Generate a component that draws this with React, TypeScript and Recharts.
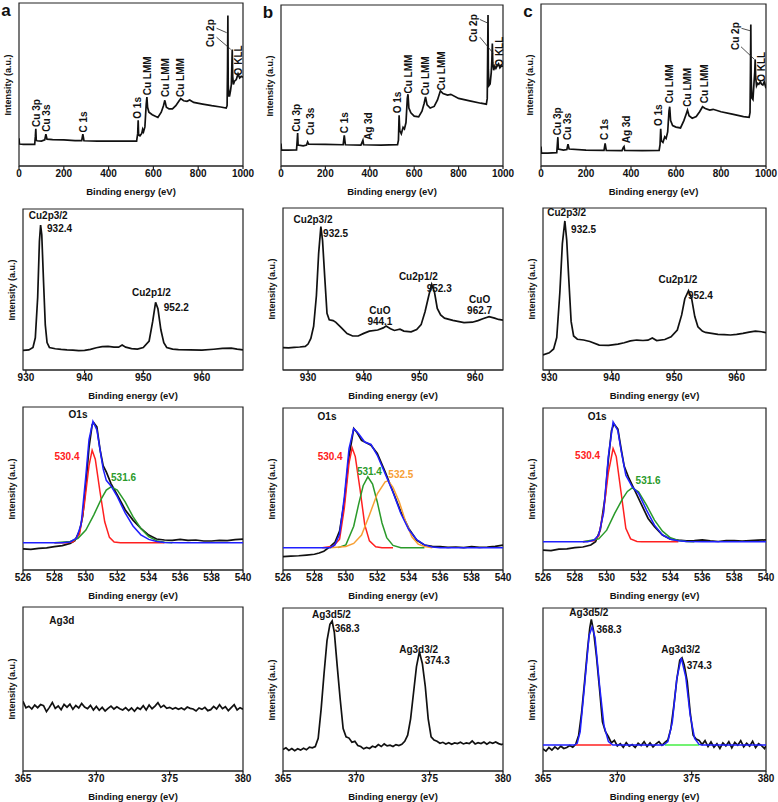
import React from "react"
import { LineChart, Line, XAxis, YAxis, ReferenceArea, ReferenceDot, ReferenceLine } from "recharts"

type Pt = [number, number]
type Note = { x: number; y: number; text: string; color?: string; rot?: boolean; anchor?: "start" | "middle" }

const FONT = "'Liberation Sans', Arial, sans-serif"
const BLACK = "#111"
const BLUE = "#1f1fff"
const RED = "#ff2020"
const GREEN = "#2a9a2a"
const ORANGE = "#f7a035"
const LIME = "#44ee44"

// tick labels
const surveyTicks = [0, 200, 400, 600, 800, 1000]
const cu2pTicks = [930, 940, 950, 960]
const o1sTicks = [526, 528, 530, 532, 534, 536, 538, 540]
const ag3dTicks = [365, 370, 375, 380]

// ---- row 1: survey spectra (eV, a.u.)
const surveyA: Pt[] = [
  [0, 17], [2, 13.5], [20, 13.3], [50, 13.3], [70, 13.3], [73, 18], [75, 22.9], [77, 16], [80, 15.5], [100, 15.3],
  [115, 16], [120, 19.5], [125, 16.5], [150, 16.2], [200, 16], [250, 15.6], [280, 15.6], [285, 19.5], [290, 15.5],
  [350, 15.3], [400, 15.2], [450, 15.3], [500, 15.2], [525, 15.3], [530, 20], [532, 28], [534, 19], [540, 18.5],
  [548, 20], [552, 22.5], [556, 21], [562, 24], [568, 38], [571, 42.3], [574, 36], [580, 33], [595, 31.5],
  [620, 29.8], [635, 33], [645, 37], [651, 40.3], [658, 36], [670, 35], [685, 35], [700, 37], [715, 40], [722, 41.3],
  [735, 40], [750, 39.7], [762, 40.5], [780, 39], [820, 38], [860, 37], [900, 36.2], [925, 35.6], [929, 37],
  [931, 60], [932.5, 92.4], [934, 50], [937, 43], [940, 43], [944, 46], [948, 50], [950, 60], [952, 71.5], [954, 55],
  [957, 50], [962, 52], [970, 53], [978, 56.5], [985, 54], [992, 55], [1000, 54.5],
]
const surveyB: Pt[] = [
  [0, 14], [2, 9.8], [30, 9.8], [70, 10], [73, 16], [75, 20.5], [77, 13], [100, 12.5], [115, 13], [120, 14.9],
  [125, 13.5], [200, 13.4], [280, 13.2], [285, 19], [290, 13.2], [360, 13], [366, 15], [369, 16], [372, 13.2],
  [450, 13], [525, 13.3], [529, 16], [532, 31.5], [535, 22], [542, 20], [550, 24], [556, 23], [563, 27], [569, 42],
  [572, 44.6], [576, 36], [585, 33], [600, 31], [620, 30.5], [635, 34], [645, 39], [651, 42.9], [658, 38], [672, 36],
  [690, 37], [705, 41], [718, 46.7], [730, 45], [750, 44], [765, 44.5], [800, 42], [850, 40.5], [900, 39],
  [925, 38.4], [929, 42], [931, 70], [932.5, 93.8], [934, 60], [937, 50], [942, 51], [947, 58], [950, 66], [952, 76],
  [954, 64], [958, 59.5], [963, 62], [968, 60.6], [975, 62.5], [980, 63.5], [986, 61], [992, 62], [1000, 62],
]
const surveyC: Pt[] = [
  [0, 12], [2, 8], [30, 8], [70, 8.2], [73, 14], [75, 17.8], [77, 10.5], [100, 9.8], [115, 10.2], [120, 13.5],
  [125, 10.5], [200, 9.8], [280, 9.6], [285, 14], [290, 9.6], [360, 9.5], [366, 11.5], [369, 12], [372, 9.6],
  [450, 9.5], [525, 9.6], [529, 13], [532, 22.9], [535, 15.5], [542, 14.5], [550, 18], [556, 17], [563, 21], [569, 34],
  [572, 36.6], [576, 28], [585, 25], [600, 24], [620, 23.5], [635, 28], [645, 32], [651, 34.5], [658, 31],
  [672, 29.5], [690, 30.5], [705, 33.5], [718, 36.6], [730, 35.5], [750, 34.5], [765, 35], [800, 33.5], [850, 32],
  [900, 30.5], [925, 30], [929, 33], [931, 60], [932.5, 87.3], [934, 55], [937, 42], [942, 41], [947, 52], [950, 58],
  [952, 65.8], [954, 55], [958, 49.5], [963, 51], [968, 50.5], [975, 52], [980, 50.5], [986, 50], [992, 52], [1000, 48],
]

const surveyNotesA: Note[] = [
  { x: 79, y: 24, text: "Cu 3p", rot: true }, { x: 125, y: 21, text: "Cu 3s", rot: true },
  { x: 289, y: 20.5, text: "C 1s", rot: true }, { x: 527, y: 29, text: "O 1s", rot: true },
  { x: 574, y: 43.4, text: "Cu LMM", rot: true }, { x: 653, y: 42.3, text: "Cu LMM", rot: true },
  { x: 720, y: 42.3, text: "Cu LMM", rot: true }, { x: 856, y: 73, text: "Cu 2p", rot: true },
  { x: 981, y: 55.6, text: "O KLL", rot: true },
]
const surveyNotesB: Note[] = [
  { x: 71, y: 21.3, text: "Cu 3p", rot: true }, { x: 131, y: 19.3, text: "Cu 3s", rot: true },
  { x: 285, y: 20.3, text: "C 1s", rot: true }, { x: 393, y: 16.1, text: "Ag 3d", rot: true },
  { x: 525, y: 32.7, text: "O 1s", rot: true }, { x: 573, y: 45, text: "Cu LMM", rot: true },
  { x: 653, y: 44, text: "Cu LMM", rot: true }, { x: 724, y: 47, text: "Cu LMM", rot: true },
  { x: 869, y: 77, text: "Cu 2p", rot: true }, { x: 986, y: 61.7, text: "O KLL", rot: true },
]
const surveyNotesC: Note[] = [
  { x: 72, y: 19, text: "Cu 3p", rot: true }, { x: 117, y: 16, text: "Cu 3s", rot: true },
  { x: 281, y: 16, text: "C 1s", rot: true }, { x: 381, y: 14, text: "Ag 3d", rot: true },
  { x: 524, y: 24.7, text: "O 1s", rot: true }, { x: 573, y: 38.7, text: "Cu LMM", rot: true },
  { x: 652, y: 36.6, text: "Cu LMM", rot: true }, { x: 726, y: 38.7, text: "Cu LMM", rot: true },
  { x: 865, y: 71.6, text: "Cu 2p", rot: true }, { x: 981, y: 52, text: "O KLL", rot: true },
]
const arrowsA: Pt[][] = [[[882, 84.5], [927, 81.8]], [[882, 79], [945, 71.6]]]
const arrowsB: Pt[][] = [[[896, 91], [934, 88.6]], [[896, 80], [956, 70]]]
const arrowsC: Pt[][] = [[[891, 85], [929, 83.5]], [[889, 73.6], [948, 65.9]]]

// ---- row 2: Cu 2p
const cu2pA: Pt[] = [
  [929.5, 12.2], [930.5, 12.5], [931.2, 14], [931.6, 20], [932, 45], [932.3, 80], [932.5, 90], [932.7, 84], [933, 55],
  [933.3, 28], [933.6, 17], [934, 14], [935, 13.2], [936, 12.8], [937, 12.5], [938, 12.3], [939, 12], [940, 12.2],
  [941, 12.8], [942, 13.8], [943, 14.5], [944, 14.7], [945, 14.2], [945.8, 14.2], [946.4, 15.5], [947, 14.2],
  [948, 13.3], [949, 13], [950, 14], [951, 18], [951.6, 30], [952.1, 42], [952.5, 38], [953, 25], [953.5, 17],
  [954, 14], [955, 13], [956, 12.6], [958, 12.5], [960, 12.3], [962, 12.9], [963.5, 13.4], [965, 13.6], [966, 13], [967, 12.5],
]
const cu2pB: Pt[] = [
  [925.5, 13.8], [926.5, 13.6], [927.5, 14], [928.5, 14.2], [929.5, 14.6], [930, 16], [930.5, 19.5], [931, 27],
  [931.5, 46], [931.9, 72], [932.3, 88.5], [932.6, 80], [933, 57], [933.4, 35], [933.8, 31], [934.5, 30.5],
  [935, 29.4], [936, 26], [937, 22.5], [938, 21], [939, 21], [940, 22.6], [941, 24], [942.5, 24.7], [943.5, 26],
  [944, 27.1], [944.8, 25.5], [945.5, 24.4], [946.5, 25.2], [947.2, 24], [948.5, 23.6], [949.5, 25], [950.3, 28],
  [951, 36], [951.7, 46.3], [952.2, 52.9], [952.7, 48], [953.2, 38], [953.8, 34], [954.5, 32], [956, 30.6],
  [958, 29.2], [959.5, 29.5], [960.5, 30.5], [961.5, 31.8], [962.5, 32.9], [963.5, 32], [964.2, 31.2], [965, 30.8],
]
const cu2pC: Pt[] = [
  [929, 9.3], [930, 10.6], [930.7, 13], [931.2, 20], [931.7, 48], [932.1, 78], [932.5, 92], [932.8, 80], [933.1, 58],
  [933.5, 30], [933.9, 21], [934.5, 19], [935.5, 18.5], [936.5, 17.6], [938, 15.4], [939.5, 15.2], [941, 16],
  [942, 16.8], [943, 18], [944, 18.5], [945, 18.2], [945.8, 18.4], [946.5, 19.8], [947.2, 18.2], [948.5, 18.8],
  [949.5, 20.5], [950.5, 24.7], [951.2, 34], [951.7, 44], [952.3, 49], [952.8, 44], [953.3, 33], [953.8, 26.7],
  [954.5, 24], [955, 23.2], [956, 22.6], [957, 22], [958, 21.8], [959, 21.6], [960, 22], [961, 22.6], [962, 23.4],
  [963, 24], [964, 23.6], [964.7, 23],
]
const cu2pNotesA: Note[] = [
  { x: 933.8, y: 96, text: "Cu2p3/2" }, { x: 933.6, y: 87.6, text: "932.4", anchor: "start" },
  { x: 951.4, y: 48, text: "Cu2p1/2" }, { x: 953.5, y: 39, text: "952.2", anchor: "start" },
]
const cu2pNotesB: Note[] = [
  { x: 930.9, y: 93, text: "Cu2p3/2" }, { x: 932.7, y: 84, text: "932.5", anchor: "start" },
  { x: 942.9, y: 37, text: "CuO" }, { x: 942.9, y: 30, text: "944.1" },
  { x: 949.8, y: 57.6, text: "Cu2p1/2" }, { x: 951.3, y: 50.4, text: "952.3", anchor: "start" },
  { x: 960.8, y: 43.8, text: "CuO" }, { x: 960.8, y: 37, text: "962.7" },
]
const cu2pNotesC: Note[] = [
  { x: 932.8, y: 97, text: "Cu2p3/2" }, { x: 933.5, y: 87, text: "932.5", anchor: "start" },
  { x: 950.6, y: 56, text: "Cu2p1/2" }, { x: 952.2, y: 46, text: "952.4", anchor: "start" },
]

// ---- row 3: O 1s (raw, envelope, components)
const o1sRawA: Pt[] = [
  [526, 12.9], [526.5, 12.6], [527, 13.3], [527.5, 13.6], [528, 14.3], [528.5, 15], [529, 16.3], [529.3, 18],
  [529.6, 24], [529.8, 33], [530, 52], [530.2, 75], [530.4, 89], [530.5, 90.4], [530.7, 87.8], [530.9, 74],
  [531.1, 64], [531.3, 60.2], [531.6, 53], [532, 46], [532.5, 37], [533, 30.6], [533.5, 25.5], [534, 21.4],
  [534.5, 19], [535, 18.4], [535.5, 18.2], [536, 18.8], [536.5, 18.2], [537, 18.4], [537.5, 17.8], [538, 17.8],
  [538.5, 18.2], [539, 18], [539.5, 18.6], [540, 19],
]
const o1sFitA: Pt[] = [
  [526, 16.7], [528.5, 16.7], [529, 17.2], [529.4, 19.5], [529.7, 28], [530, 58], [530.2, 80], [530.45, 91.2],
  [530.7, 86], [530.9, 74], [531.1, 62], [531.3, 55], [531.6, 51.6], [532, 45], [532.5, 35], [533, 27], [533.5, 21.6],
  [534, 18.8], [534.5, 17.5], [535, 16.9], [536, 16.7], [540, 16.7],
]
const o1sRedA: Pt[] = [
  [528, 16.7], [528.8, 16.7], [529.2, 17.3], [529.6, 22], [529.9, 40], [530.2, 64], [530.4, 73.5], [530.6, 68],
  [530.9, 48], [531.2, 29.6], [531.5, 20], [531.8, 17.2], [532.2, 16.7], [535, 16.7],
]
const o1sGreenA: Pt[] = [
  [528, 16.7], [529, 17.5], [529.5, 19.4], [530, 24.5], [530.5, 33.7], [531, 43.9], [531.3, 49], [531.6, 51],
  [532, 49], [532.5, 41.8], [533, 32.7], [533.5, 25.5], [534, 20.4], [534.5, 18], [535, 17], [535.5, 16.7],
]
const o1sRawB: Pt[] = [
  [526, 8.2], [526.5, 8.6], [527, 8.8], [527.5, 9.2], [528, 9.7], [528.3, 10.5], [528.6, 11.6], [529, 14.4],
  [529.3, 17], [529.6, 24], [529.9, 42], [530.2, 70], [530.5, 87.3], [530.7, 85], [531, 80], [531.3, 78.5],
  [531.6, 77], [532, 71.9], [532.5, 60.6], [533, 48.3], [533.5, 35.9], [534, 25.7], [534.5, 18.5], [535, 15.4],
  [535.5, 14.6], [536, 14.4], [536.5, 14], [537, 14.2], [537.5, 13.8], [538, 14.4], [538.5, 14], [539, 14.2],
  [539.5, 14.6], [540, 15.4],
]
const o1sFitB: Pt[] = [
  [526, 13.8], [529, 13.8], [529.3, 15.5], [529.6, 22], [529.9, 45], [530.2, 75], [530.5, 87.3], [530.8, 84.2],
  [531.2, 79], [531.6, 77.5], [532, 70.8], [532.5, 59.5], [533, 48], [533.5, 34.9], [534, 25], [534.5, 18.8],
  [535, 15.5], [535.5, 14.2], [536, 13.8], [540, 13.8],
]
const o1sRedB: Pt[] = [
  [528.5, 13.8], [529.2, 14.6], [529.6, 19], [529.9, 38], [530.2, 66], [530.4, 75.4], [530.6, 70], [530.9, 50],
  [531.2, 28], [531.5, 18], [531.9, 14.3], [532.3, 13.8], [533, 13.8],
]
const o1sGreenB: Pt[] = [
  [529.5, 13.8], [530, 15.5], [530.5, 27], [530.8, 40], [531.1, 52], [531.4, 57.5], [531.7, 53], [532, 42],
  [532.3, 29], [532.6, 20], [533, 15.2], [533.5, 13.8], [535, 13.8],
]
const o1sOrangeB: Pt[] = [
  [529, 13.8], [530, 14.5], [530.5, 16.4], [531, 21.6], [531.5, 34], [532, 47], [532.5, 54.4], [532.7, 55],
  [533, 51], [533.4, 42], [533.8, 30], [534.2, 20.5], [534.6, 16], [535, 14.5], [535.5, 13.8],
]
const o1sRawC: Pt[] = [
  [526, 12.3], [526.5, 12.0], [527, 12.9], [527.5, 13], [528, 13.8], [528.5, 14.2], [529, 15.4], [529.3, 17.5],
  [529.6, 25], [529.9, 45], [530.1, 68], [530.3, 86], [530.45, 90.3], [530.7, 87], [530.9, 75], [531.1, 64],
  [531.4, 56.5], [531.8, 48.3], [532.2, 40], [532.6, 31.8], [533, 26.7], [533.5, 21.6], [534, 19], [534.5, 18.4],
  [535, 18], [535.5, 18.2], [536, 18.6], [536.5, 18], [537, 17.6], [537.5, 18.2], [538, 18.2], [538.5, 17.8],
  [539, 18.2], [539.5, 18.4], [540, 18.6],
]
const o1sFitC: Pt[] = [
  [526, 17.5], [528.8, 17.5], [529.2, 18.5], [529.5, 21.6], [529.8, 35], [530.1, 70], [530.4, 91.4], [530.7, 86],
  [530.9, 74], [531.2, 58.5], [531.6, 51.3], [532, 47.2], [532.5, 37], [533, 27.7], [533.5, 21.6], [534, 19],
  [534.5, 18], [535, 17.6], [536, 17.5], [540, 17.5],
]
const o1sRedC: Pt[] = [
  [528.5, 17.5], [529.2, 18], [529.5, 21], [529.8, 36], [530.1, 60], [530.4, 75], [530.6, 70], [530.9, 48],
  [531.2, 25.7], [531.5, 19.2], [531.9, 17.6], [532.2, 17.5], [534.5, 17.5],
]
const o1sGreenC: Pt[] = [
  [528.5, 17.5], [529.5, 19.2], [530, 24.6], [530.5, 34.9], [531, 44.1], [531.3, 48.5], [531.6, 50.7], [532, 48.3],
  [532.5, 40], [533, 30.8], [533.5, 24], [534, 19.9], [534.5, 18.2], [535, 17.6], [535.5, 17.5],
]
const o1sNotesA: Note[] = [
  { x: 529.5, y: 95.3, text: "O1s" }, { x: 528.8, y: 69.8, text: "530.4", color: RED },
  { x: 532.4, y: 57, text: "531.6", color: GREEN },
]
const o1sNotesB: Note[] = [
  { x: 528.8, y: 94.5, text: "O1s" }, { x: 529.0, y: 70.2, text: "530.4", color: RED },
  { x: 531.5, y: 61, text: "531.4", color: GREEN }, { x: 533.5, y: 59, text: "532.5", color: ORANGE },
]
const o1sNotesC: Note[] = [
  { x: 529.4, y: 95, text: "O1s" }, { x: 528.8, y: 70.4, text: "530.4", color: RED },
  { x: 532.6, y: 55.4, text: "531.6", color: GREEN },
]

// ---- row 4: Ag 3d
const ag3dA: Pt[] = [
  [365.0, 42.5], [365.2, 38.5], [365.4, 39.5], [365.6, 37.8], [365.8, 40.2], [366.0, 38.6], [366.2, 40.5],
  [366.4, 39.8], [366.6, 36.2], [366.8, 38.8], [367.0, 41.8], [367.2, 38.2], [367.4, 39.6], [367.6, 37.4],
  [367.8, 40.6], [368.0, 38.9], [368.2, 40.8], [368.4, 37.6], [368.6, 39.9], [368.8, 38.4], [369.0, 41.2],
  [369.2, 39.0], [369.4, 38.0], [369.6, 40.0], [369.8, 37.2], [370.0, 39.4], [370.2, 37.0], [370.4, 38.8],
  [370.6, 36.6], [370.8, 38.2], [371.0, 39.6], [371.2, 37.8], [371.4, 39.2], [371.6, 38.0], [371.8, 37.2],
  [372.0, 38.6], [372.2, 36.8], [372.4, 38.4], [372.6, 36.4], [372.8, 38.6], [373.0, 37.6], [373.2, 39.8],
  [373.4, 37.2], [373.6, 40.2], [373.8, 38.0], [374.0, 39.6], [374.2, 41.6], [374.4, 38.8], [374.6, 40.0],
  [374.8, 38.2], [375.0, 38.8], [375.2, 37.8], [375.4, 38.6], [375.6, 37.6], [375.8, 38.4], [376.0, 37.4],
  [376.2, 39.0], [376.4, 38.2], [376.6, 37.8], [376.8, 36.6], [377.0, 38.4], [377.2, 37.6], [377.4, 38.8],
  [377.6, 36.8], [377.8, 37.4], [378.0, 39.4], [378.2, 37.8], [378.4, 40.4], [378.6, 38.0], [378.8, 39.2],
  [379.0, 36.8], [379.2, 38.6], [379.4, 40.4], [379.6, 37.2], [379.8, 38.6], [380.0, 37.6],
]
const ag3dB: Pt[] = [
  [365.0, 13.2], [365.2, 14.2], [365.4, 12.6], [365.6, 13.8], [365.8, 12.4], [366.0, 13.6], [366.2, 12.8],
  [366.4, 14.0], [366.6, 13.0], [366.8, 14.6], [367.0, 14.2], [367.2, 15.0], [367.4, 20], [367.6, 38], [367.8, 60],
  [368.0, 80], [368.2, 90], [368.35, 92], [368.5, 85], [368.7, 64], [368.9, 44], [369.1, 26], [369.3, 21],
  [369.5, 20.2], [369.7, 17.6], [369.9, 18.2], [370.1, 15.6], [370.3, 15.0], [370.5, 13.6], [370.7, 14.4],
  [370.9, 13.8], [371.1, 15.2], [371.3, 14.6], [371.5, 16.2], [371.7, 15.0], [371.9, 16.6], [372.1, 15.4],
  [372.3, 15.8], [372.5, 15.0], [372.7, 16.2], [372.9, 15.6], [373.1, 16.4], [373.3, 18.2], [373.5, 22],
  [373.7, 32], [373.9, 48], [374.1, 64], [374.3, 73.1], [374.5, 66], [374.7, 52], [374.9, 32], [375.1, 21],
  [375.3, 19], [375.5, 18.2], [375.7, 17.0], [375.9, 17.6], [376.1, 16.6], [376.3, 17.4], [376.5, 16.4],
  [376.7, 17.2], [376.9, 16.8], [377.1, 17.6], [377.3, 16.6], [377.5, 17.2], [377.7, 16.8], [377.9, 18.4],
  [378.1, 16.6], [378.3, 17.4], [378.5, 16.8], [378.7, 17.8], [378.9, 16.4], [379.1, 17.6], [379.3, 17.0],
  [379.5, 17.8], [379.7, 16.8], [379.9, 16.2], [380.0, 16.6],
]
const ag3dRawC: Pt[] = [
  [365.0, 13.6], [365.2, 12.2], [365.4, 14.4], [365.6, 12.8], [365.8, 14.8], [366.0, 13.4], [366.2, 15.2],
  [366.4, 13.8], [366.6, 14.4], [366.8, 15.6], [367.0, 14.6], [367.2, 16.4], [367.4, 22], [367.6, 36], [367.8, 55],
  [368.0, 75], [368.15, 88], [368.25, 93], [368.4, 86], [368.6, 70], [368.8, 50.6], [369.0, 30.2], [369.2, 24.1],
  [369.4, 21], [369.6, 17.2], [369.8, 18.8], [370.0, 15.4], [370.2, 16.8], [370.4, 14.6], [370.6, 17.4],
  [370.8, 15.2], [371.0, 16.2], [371.2, 14.4], [371.4, 17.0], [371.6, 15.6], [371.8, 18.0], [372.0, 15.0],
  [372.2, 17.2], [372.4, 14.8], [372.6, 16.6], [372.8, 18.0], [373.0, 15.8], [373.2, 17.6], [373.4, 19],
  [373.6, 26], [373.8, 40], [374.0, 56], [374.2, 68], [374.35, 69.4], [374.5, 65], [374.7, 55], [374.9, 36],
  [375.1, 22], [375.3, 19.6], [375.5, 18.8], [375.7, 16.2], [375.9, 18.6], [376.1, 15.0], [376.3, 17.8],
  [376.5, 14.6], [376.7, 16.8], [376.9, 13.8], [377.1, 17.2], [377.3, 15.4], [377.5, 18.0], [377.7, 14.2],
  [377.9, 17.6], [378.1, 15.8], [378.3, 18.6], [378.5, 14.8], [378.7, 17.0], [378.9, 15.2], [379.1, 18.2],
  [379.3, 14.4], [379.5, 16.8], [379.7, 15.6], [379.9, 13.8], [380.0, 15.4],
]
const ag3dFitC: Pt[] = [
  [365, 15.9], [367.1, 15.9], [367.3, 17], [367.5, 24], [367.8, 53], [368.1, 83], [368.3, 88.4], [368.5, 82],
  [368.8, 53], [369.1, 28], [369.4, 18], [369.7, 15.9], [373.1, 15.9], [373.4, 18], [373.7, 30], [374, 56.7],
  [374.3, 69.4], [374.6, 57.8], [374.9, 34.3], [375.2, 20], [375.5, 16.3], [375.7, 15.9], [380, 15.9],
]
const ag3dRedC: Pt[] = [[367.2, 15.9], [369.6, 15.9]]
const ag3dGreenC: Pt[] = [[373.2, 15.9], [375.5, 15.9]]
const ag3dNotesA: Note[] = [{ x: 367.65, y: 91.9, text: "Ag3d" }]
const ag3dNotesB: Note[] = [
  { x: 368.3, y: 95.9, text: "Ag3d5/2" }, { x: 368.52, y: 87.3, text: "368.3", anchor: "start" },
  { x: 374.25, y: 74.7, text: "Ag3d3/2" }, { x: 374.66, y: 68, text: "374.3", anchor: "start" },
]
const ag3dNotesC: Note[] = [
  { x: 368.08, y: 97, text: "Ag3d5/2" }, { x: 368.6, y: 87, text: "368.3", anchor: "start" },
  { x: 374.26, y: 74.7, text: "Ag3d3/2" }, { x: 374.67, y: 64.5, text: "374.3", anchor: "start" },
]

type Series = { data: Pt[]; color: string }
type Box = { x: number; y: number; w: number; h: number }

const rows = (pts: Pt[]) => pts.map(([x, y]) => ({ x, y }))

function Panel({ box, domain, ticks, series, notes, arrows = [], letter, noteSize = 10 }: {
  box: Box; domain: [number, number]; ticks: number[]; series: Series[]; notes: Note[]
  arrows?: Pt[][]; letter?: string; noteSize?: number
}) {
  const ML = 16, MR = 14, MT = 4, XH = 20
  return (
    <>
      <div style={{ position: "absolute", left: box.x - ML, top: box.y - MT }}>
        <LineChart width={box.w + ML + MR} height={box.h + MT + XH} margin={{ top: MT, right: MR, left: ML, bottom: 0 }}>
          <XAxis type="number" dataKey="x" domain={domain} ticks={ticks} allowDataOverflow interval={0}
            height={XH} tickSize={3} tickMargin={1} stroke="#222" strokeWidth={1.2}
            tick={{ fontSize: 10, fontWeight: "bold", fill: BLACK, fontFamily: FONT }} />
          <YAxis type="number" domain={[0, 100]} hide allowDataOverflow />
          <ReferenceArea x1={domain[0]} x2={domain[1]} y1={0} y2={100} fill="none" fillOpacity={0}
            stroke="#222" strokeWidth={1.2} ifOverflow="visible" />
          {series.map((s, i) => (
            <Line key={i} data={rows(s.data)} dataKey="y" type="linear" stroke={s.color}
              strokeWidth={s.color === BLACK ? 1.7 : 1.5} dot={false} isAnimationActive={false} />
          ))}
          {arrows.map((a, i) => (
            <ReferenceLine key={"a" + i} segment={[{ x: a[0][0], y: a[0][1] }, { x: a[1][0], y: a[1][1] }]}
              stroke="#222" strokeWidth={0.8} ifOverflow="visible" />
          ))}
          {notes.map((n, i) => (
            <ReferenceDot key={"n" + i} x={n.x} y={n.y} r={0} ifOverflow="visible"
              shape={(p: any) => n.rot ? (
                <text x={p.cx} y={p.cy} dy="0.35em" textAnchor="start" transform={`rotate(-90 ${p.cx} ${p.cy})`}
                  fontSize={noteSize} fontWeight="bold" fill={BLACK} fontFamily={FONT}>{n.text}</text>
              ) : (
                <text x={p.cx} y={p.cy} dy="0.35em" textAnchor={n.anchor ?? "middle"}
                  fontSize={noteSize} fontWeight="bold" fill={n.color ?? BLACK} fontFamily={FONT}>{n.text}</text>
              )} />
          ))}
        </LineChart>
      </div>
      <div style={{
        position: "absolute", left: box.x - 11, top: box.y + box.h / 2, transform: "translate(-50%, -50%) rotate(-90deg)",
        whiteSpace: "nowrap", fontSize: 9, fontWeight: "bold", fontFamily: FONT, color: BLACK,
      }}>Intensity (a.u.)</div>
      <div style={{
        position: "absolute", left: box.x + box.w / 2, top: box.y + box.h + 25, transform: "translate(-50%, -50%)",
        whiteSpace: "nowrap", fontSize: 9.5, fontWeight: "bold", fontFamily: FONT, color: BLACK,
      }}>Binding energy (eV)</div>
      {letter && (
        <div style={{
          position: "absolute", left: box.x - 13, top: box.y + 8, transform: "translate(-50%, -50%)",
          fontSize: 17, fontWeight: "bold", fontFamily: FONT, color: BLACK,
        }}>{letter}</div>
      )}
    </>
  )
}

export default function App() {
  return (
    <div style={{ position: "absolute", left: 0, top: 0, width: 778, height: 802, background: "#fff", overflow: "hidden" }}>
      <Panel box={{ x: 19, y: 3, w: 224, h: 163 }} domain={[0, 1000]} ticks={surveyTicks} letter="a"
        series={[{ data: surveyA, color: BLACK }]} notes={surveyNotesA} arrows={arrowsA} />
      <Panel box={{ x: 281, y: 5, w: 222, h: 161 }} domain={[0, 1000]} ticks={surveyTicks} letter="b"
        series={[{ data: surveyB, color: BLACK }]} notes={surveyNotesB} arrows={arrowsB} />
      <Panel box={{ x: 541, y: 4, w: 225, h: 162 }} domain={[0, 1000]} ticks={surveyTicks} letter="c"
        series={[{ data: surveyC, color: BLACK }]} notes={surveyNotesC} arrows={arrowsC} />

      <Panel box={{ x: 23, y: 209, w: 220, h: 161 }} domain={[929.5, 967]} ticks={cu2pTicks}
        series={[{ data: cu2pA, color: BLACK }]} notes={cu2pNotesA} />
      <Panel box={{ x: 283, y: 208, w: 220, h: 162 }} domain={[925.5, 965]} ticks={cu2pTicks}
        series={[{ data: cu2pB, color: BLACK }]} notes={cu2pNotesB} />
      <Panel box={{ x: 543, y: 208, w: 223, h: 162 }} domain={[929, 964.7]} ticks={cu2pTicks}
        series={[{ data: cu2pC, color: BLACK }]} notes={cu2pNotesC} />

      <Panel box={{ x: 23, y: 407, w: 220, h: 163 }} domain={[526, 540]} ticks={o1sTicks}
        series={[{ data: o1sRawA, color: BLACK }, { data: o1sRedA, color: RED }, { data: o1sGreenA, color: GREEN }, { data: o1sFitA, color: BLUE }]}
        notes={o1sNotesA} />
      <Panel box={{ x: 283, y: 408, w: 220, h: 162 }} domain={[526, 540]} ticks={o1sTicks}
        series={[{ data: o1sRawB, color: BLACK }, { data: o1sRedB, color: RED }, { data: o1sGreenB, color: GREEN }, { data: o1sOrangeB, color: ORANGE }, { data: o1sFitB, color: BLUE }]}
        notes={o1sNotesB} />
      <Panel box={{ x: 543, y: 408, w: 223, h: 162 }} domain={[526, 540]} ticks={o1sTicks}
        series={[{ data: o1sRawC, color: BLACK }, { data: o1sRedC, color: RED }, { data: o1sGreenC, color: GREEN }, { data: o1sFitC, color: BLUE }]}
        notes={o1sNotesC} />

      <Panel box={{ x: 23, y: 607, w: 220, h: 164 }} domain={[365, 380]} ticks={ag3dTicks}
        series={[{ data: ag3dA, color: BLACK }]} notes={ag3dNotesA} />
      <Panel box={{ x: 283, y: 608, w: 220, h: 163 }} domain={[365, 380]} ticks={ag3dTicks}
        series={[{ data: ag3dB, color: BLACK }]} notes={ag3dNotesB} />
      <Panel box={{ x: 543, y: 608, w: 223, h: 163 }} domain={[365, 380]} ticks={ag3dTicks}
        series={[{ data: ag3dRawC, color: BLACK }, { data: ag3dRedC, color: RED }, { data: ag3dGreenC, color: LIME }, { data: ag3dFitC, color: BLUE }]}
        notes={ag3dNotesC} />
    </div>
  )
}
